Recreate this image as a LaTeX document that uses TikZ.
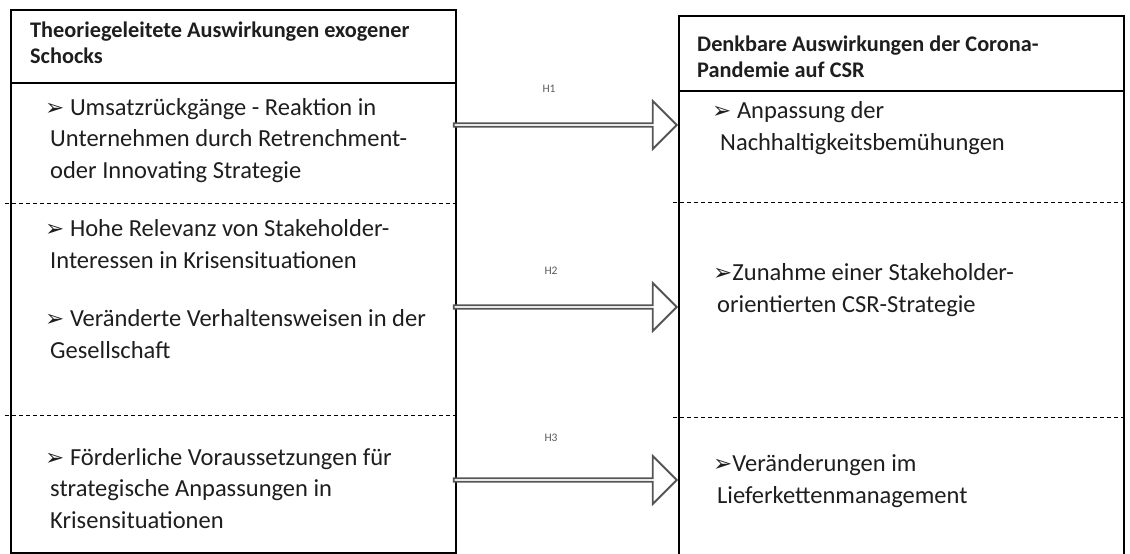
\documentclass[tikz,border=0pt]{standalone}
\usepackage{fontspec}
\setmainfont{Carlito}
\newfontfamily\dingfont{DejaVu Sans}
\usetikzlibrary{shapes.arrows}

\definecolor{ink}{HTML}{1E1E1E}
\definecolor{arrowgrey}{HTML}{555555}
\definecolor{labelgrey}{HTML}{5A5A5A}

% arrowhead bullet
\newcommand{\bul}{{\dingfont\bfseries\fontsize{23}{23}\selectfont ➢}}

\tikzset{
  panel/.style={draw=black, line width=1.5pt, inner sep=0pt, anchor=north west},
  divider/.style={black, line width=1pt, dash pattern=on 4pt off 3pt},
  % multi-line nodes are placed by the baseline of their last line
  headtext/.style={inner sep=0pt, anchor=base west, align=left, text=ink,
    font=\fontsize{22.3}{26}\selectfont\bfseries},
  bodytext/.style={inner sep=0pt, anchor=base west, align=left, text=ink,
    font=\fontsize{24.5}{31.5}\selectfont},
  hyparrow/.style={single arrow, draw=arrowgrey, line width=1.8pt, fill=white,
    inner sep=0pt, minimum width=48pt, single arrow head extend=12pt,
    single arrow tip angle=90, minimum height=223pt, anchor=tip},
  hyplabel/.style={inner sep=0pt, text=labelgrey, font=\fontsize{11.5}{11.5}\selectfont}
}

\begin{document}
\begin{tikzpicture}[x=1pt, y=-1pt]
\useasboundingbox (0,0) rectangle (1130,554);

% the two columns
\node[panel, minimum width=445pt, minimum height=543pt] (L) at (10,9) {};
\node[panel, minimum width=445pt, minimum height=545pt] (R) at (678,15) {};

% header separators
\draw[black, line width=1.5pt] (10,83) -- (455,83);
\draw[black, line width=1.5pt] (678,91) -- (1123,91);

% section dividers
\draw[divider] (5,203) -- (455,203);
\draw[divider] (5,415) -- (455,415);
\draw[divider] (673,202) -- (1123,202);
\draw[divider] (673,417) -- (1123,417);

% headers
\node[headtext] (hl) at (30,63) {Theoriegeleitete Auswirkungen exogener\\Schocks};
\node[headtext] (hr) at (697,77) {Denkbare Auswirkungen der Corona-\\Pandemie auf CSR};

% left column items
\node[bodytext] (l1) at (45,178) {\bul\ Umsatzrückgänge - Reaktion in\\
  \hspace*{5pt}Unternehmen durch Retrenchment-\\
  \hspace*{5pt}oder Innovating Strategie};
\node[bodytext] (l2) at (45,268) {\bul\ Hohe Relevanz von Stakeholder-\\
  \hspace*{5pt}Interessen in Krisensituationen};
\node[bodytext] (l3) at (45,358) {\bul\ Veränderte Verhaltensweisen in der\\
  \hspace*{5pt}Gesellschaft};
\node[bodytext] (l4) at (45,528) {\bul\ Förderliche Voraussetzungen für\\
  \hspace*{5pt}strategische Anpassungen in\\
  \hspace*{5pt}Krisensituationen};

% right column items
\node[bodytext] (r1) at (712,150) {\bul\ Anpassung der\\
  \hspace*{8pt}Nachhaltigkeitsbemühungen};
\node[bodytext] (r2) at (713,312) {\bul Zunahme einer Stakeholder-\\
  \hspace*{4pt}orientierten CSR-Strategie};
\node[bodytext] (r3) at (713,503) {\bul Veränderungen im\\
  \hspace*{4pt}Lieferkettenmanagement};

% hypothesis arrows, from the left column to the right one
\node[hyparrow] (a1) at (R.west |- 0,125) {};
\node[hyparrow] (a2) at (R.west |- 0,307) {};
\node[hyparrow] (a3) at (R.west |- 0,480) {};

\node[hyplabel] (h1) at (549,89) {H1};
\node[hyplabel] (h2) at (551,271) {H2};
\node[hyplabel] (h3) at (551,438) {H3};
\end{tikzpicture}
\end{document}
